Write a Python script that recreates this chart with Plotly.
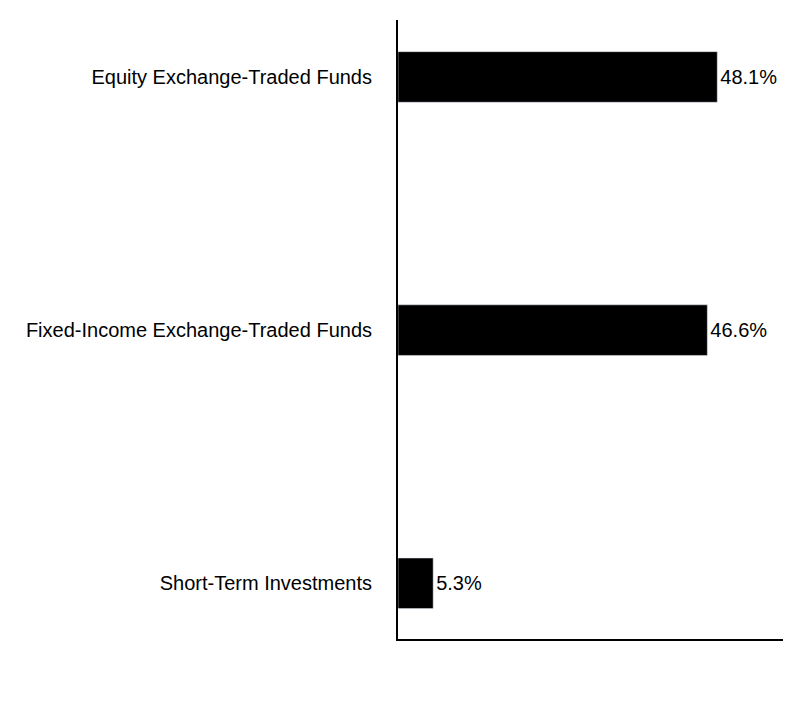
import plotly.graph_objects as go

categories = ["Equity Exchange-Traded Funds", "Fixed-Income Exchange-Traded Funds", "Short-Term Investments"]
values = [48.1, 46.6, 5.3]
labels = ["48.1%", "46.6%", "5.3%"]

fig = go.Figure(go.Bar(
    y=categories, x=values, orientation="h", width=0.2,
    marker_color="black", text=labels, textposition="outside",
    textfont=dict(size=20, color="black"), cliponaxis=False,
))
fig.update_layout(
    width=804, height=720, plot_bgcolor="white", paper_bgcolor="white",
    margin=dict(l=390, r=29, t=12, b=89),
    font=dict(family="Liberation Sans, Arial", size=20, color="black"),
    showlegend=False,
    xaxis=dict(range=[0, 58], showticklabels=False, showgrid=False, zeroline=False,
               showline=True, linecolor="black", linewidth=2),
    yaxis=dict(showgrid=False, showline=True, linecolor="black",
               linewidth=2, ticks="", ticklabelstandoff=20,
               autorange=False, range=[2.22, -0.225]),
)
fig.write_html("out.html")
